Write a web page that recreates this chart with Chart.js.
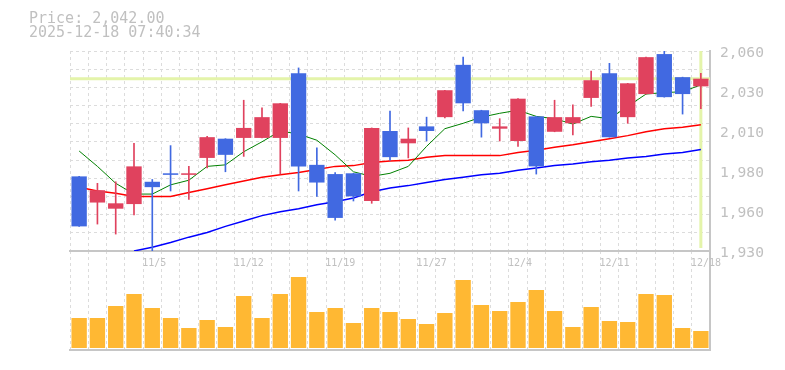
<!DOCTYPE html>
<html>
<head>
<meta charset="utf-8">
<script src="https://cdn.jsdelivr.net/npm/chart.js@4.4.1/dist/chart.umd.min.js"></script>
<style>
  html, body { margin: 0; padding: 0; background: #fff; }
  #wrap { position: relative; width: 785px; height: 370px; overflow: hidden; }
  #priceChart { position: absolute; left: 0; top: 0; z-index: 2; }
  #volChart { position: absolute; left: 0; top: 251px; z-index: 1; }
  .info { position: absolute; left: 29px; font: 15px "DejaVu Sans Mono", monospace; color: #c0c0c0; line-height: 14px; white-space: pre; z-index: 3; }
</style>
</head>
<body>
<div id="wrap">
  <div class="info" style="top:11px">Price: 2,042.00</div>
  <div class="info" style="top:25px">2025-12-18 07:40:34</div>
  <canvas id="volChart" width="785" height="119"></canvas>
  <canvas id="priceChart" width="785" height="270"></canvas>
</div>
<script>
// trading days
const dates = ['10/29','10/30','10/31','11/4','11/5','11/6','11/7','11/10','11/11','11/12',
  '11/13','11/14','11/17','11/18','11/19','11/20','11/21','11/25','11/26','11/27',
  '11/28','12/1','12/2','12/3','12/4','12/5','12/8','12/9','12/10','12/11',
  '12/12','12/15','12/16','12/17','12/18'];
const labeledDates = ['11/5','11/12','11/19','11/27','12/4','12/11','12/18'];

const opens  = [1978.5,1961.5,1957.5,1960.5,1975,1980.5,1979.5,1990.5,2003,2003.5,
  2003.5,2003.5,2045.5,1986,1980,1980.5,1962.5,2008,2000,2011,
  2017,2051,2021.5,2009.5,2001.5,2017.5,2007.5,2013,2029.5,2045.5,
  2017,2032,2058,2043,2037];
const highs  = [1978.5,1974,1975,2000,1976.5,1998.5,1985,2004.5,2003,2028,
  2023,2026,2049,1997,1981,1980.5,2010,2021,2010,2017,
  2034.5,2056,2021.5,2016,2029,2017.5,2028,2025,2047,2052,
  2039,2056,2060,2043,2045.5];
const lows   = [1946,1947.5,1941,1953.5,1928,1969,1963.5,1984,1981.5,1991.5,
  2003.5,1980,1969,1965.5,1950,1962.5,1961,1989,1990.5,2001.5,
  2016.5,2021,2004,2001.5,1998,1980,2007.5,2005.5,2024,2004,
  2013,2032,2030,2019,2022.5];
const closes = [1946,1969.5,1961,1985,1971.5,1979.5,1980.5,2004,1992.5,2010,
  2017,2026,1985,1974.5,1951.5,1965.5,2010,1991,2003,2008,
  2034.5,2026,2013,2011,2029,1985,2017,2017,2041,2004,
  2039,2056,2030,2032,2042];

// moving averages
const maShort = [1995,1985,1974,1967,1967,1973,1976,1985,1986,1994.5,
  2001,2008,2006,2002,1992.5,1981.5,1978.5,1980.5,1985,1998,
  2009.5,2013,2017,2019.5,2021.5,2017.5,2016,2012.5,2017.5,2016,
  2024,2032,2033,2033.5,2038];
const maMid = [1971.5,1969,1967.5,1965.5,1965.5,1965.5,1968,1970.5,1973,1975.5,
  1978,1979.5,1981,1983,1985,1985.5,1987.5,1988.5,1989,1991,
  1992,1992,1992,1992,1994,1995.5,1997.5,1999,2001,2003,
  2005,2007.5,2009.5,2010.5,2012];
const maLong = [null,null,null,1930,1932.5,1935.5,1939,1942,1946,1949.5,
  1953,1955.5,1957.5,1960,1962,1964.5,1968.5,1971,1972.5,1974.5,
  1976.5,1978,1979.5,1980.5,1982.5,1984,1985.5,1986.5,1988,1989,
  1990.5,1991.5,1993,1994,1996];

// volume (thousand shares)
const volumes = [30,30,42,54,40,30,20,28,21,52,
  30,54,71,36,40,25,40,36,29,24,
  35,68,43,37,46,58,37,21,41,27,
  26,54,53,20,17];

const lastPrice = 2042;
const priceTicks = [1930,1956,1982,2008,2034,2060];
const priceTickLabels = ['1,930','1,960','1,980','2,010','2,030','2,060'];

const UP = '#e0425e', DOWN = '#4169e1';
const candleColors = opens.map((o, i) => closes[i] >= o ? UP : DOWN);
const bodies = opens.map((o, i) => [o, closes[i]]);
const wicks = lows.map((l, i) => [l, highs[i]]);

const gridColor = '#dcdcdc';
const axisColor = '#c6c6c6';
const labelColor = '#c0c0c0';
const monoFont = '"DejaVu Sans Mono", monospace';

const crosshair = {
  id: 'crosshair',
  beforeDatasetsDraw(chart) {
    const { ctx, chartArea: a, scales: { x, y } } = chart;
    const px = x.getPixelForValue(dates.length - 1);
    const py = y.getPixelForValue(lastPrice);
    ctx.save();
    ctx.strokeStyle = '#e4f4aa';
    ctx.lineWidth = 3;
    ctx.beginPath();
    ctx.moveTo(a.left, py); ctx.lineTo(a.right, py);
    ctx.moveTo(px, a.top); ctx.lineTo(px, a.bottom - 3);
    ctx.stroke();
    ctx.restore();
  }
};

new Chart(document.getElementById('priceChart'), {
  type: 'bar',
  data: {
    labels: dates,
    datasets: [
      { label: 'body', data: bodies, backgroundColor: candleColors, barPercentage: 0.84, categoryPercentage: 1,
        grouped: false, order: 0, clip: 0, yAxisID: 'y' },
      { label: 'wick', data: wicks, backgroundColor: candleColors, barThickness: 1, grouped: false,
        order: 1, clip: 0, yAxisID: 'y' },
      { type: 'line', label: 'MA short', data: maShort, borderColor: '#008000', borderWidth: 1,
        pointRadius: 0, order: 2, yAxisID: 'y' },
      { type: 'line', label: 'MA mid', data: maMid, borderColor: '#ff0000', borderWidth: 1.5,
        pointRadius: 0, order: 3, yAxisID: 'y' },
      { type: 'line', label: 'MA long', data: maLong, borderColor: '#0000ff', borderWidth: 1.5,
        pointRadius: 0, order: 4, clip: 0, yAxisID: 'y' }
    ]
  },
  options: {
    responsive: false,
    animation: false,
    layout: { padding: { top: 51, left: 0, right: 0, bottom: 0 } },
    plugins: { legend: { display: false }, tooltip: { enabled: false } },
    scales: {
      x: {
        offset: true,
        grid: { color: gridColor, lineWidth: 1, offset: true, drawTicks: false },
        border: { display: true, color: axisColor, width: 2, dash: [3, 3] },
        ticks: {
          autoSkip: false, maxRotation: 0, align: 'start', labelOffset: -10, padding: 6,
          color: labelColor, font: { family: monoFont, size: 10 },
          callback: (v, i) => labeledDates.includes(dates[i]) ? dates[i] : ''
        },
        afterFit: s => { s.height = 19; }
      },
      y: {
        position: 'right', min: 1930, max: 2060,
        grid: { display: false, drawTicks: false },
        border: { display: true, color: axisColor, width: 2 },
        ticks: {
          padding: 10, labelOffset: 2.5, color: labelColor, font: { family: monoFont, size: 14.6 },
          callback: (v, i) => priceTickLabels[i]
        },
        afterBuildTicks: s => { s.ticks = priceTicks.map(v => ({ value: v })); },
        afterFit: s => { s.width = 75; }
      },
      g: {
        position: 'left', min: 1930, max: 2060,
        grid: { color: gridColor, lineWidth: 1, drawTicks: false },
        border: { display: false, dash: [3, 3] },
        ticks: { display: false },
        afterBuildTicks: s => {
          const t = [];
          for (let k = 0; k <= 11; k++) t.push({ value: s.min + (s.max - s.min) * k / 11 });
          s.ticks = t;
        },
        afterFit: s => { s.width = 70; }
      }
    }
  },
  plugins: [crosshair]
});

new Chart(document.getElementById('volChart'), {
  type: 'bar',
  data: {
    labels: dates,
    datasets: [{ label: 'volume', data: volumes, backgroundColor: '#ffb833',
      barPercentage: 0.84, categoryPercentage: 1, clip: 0 }]
  },
  options: {
    responsive: false,
    animation: false,
    layout: { padding: { top: 0, left: 70, right: 0, bottom: 20 } },
    plugins: { legend: { display: false }, tooltip: { enabled: false } },
    scales: {
      x: {
        offset: true,
        grid: { color: gridColor, lineWidth: 1, offset: true, drawTicks: false },
        border: { display: true, color: axisColor, width: 2, dash: [3, 3] },
        ticks: { display: false },
        afterFit: s => { s.height = 0; }
      },
      y: {
        position: 'right', min: -2, max: 97,
        grid: { display: false, drawTicks: false },
        border: { display: true, color: axisColor, width: 2 },
        ticks: { display: false },
        afterFit: s => { s.width = 75; }
      }
    }
  }
});
</script>
</body>
</html>
